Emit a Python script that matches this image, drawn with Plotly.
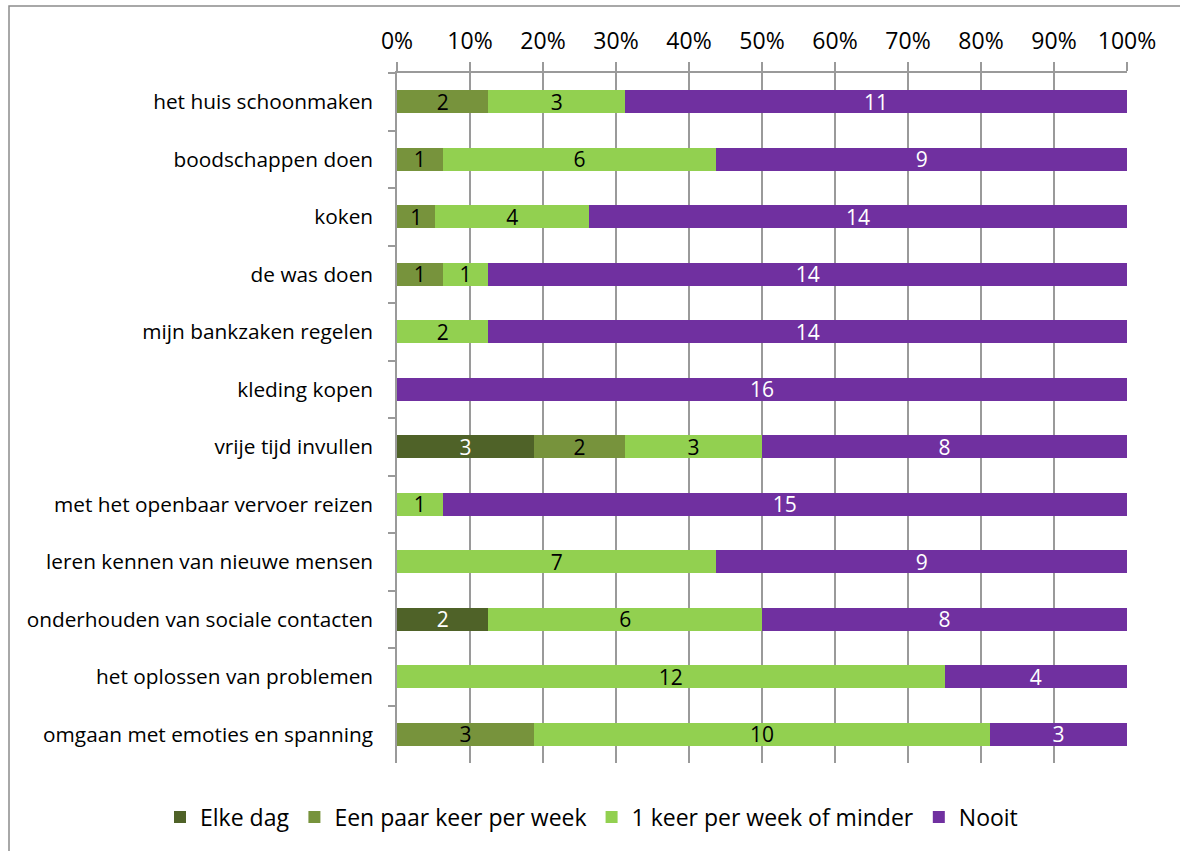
import plotly.graph_objects as go

categories = [
    "het huis schoonmaken",
    "boodschappen doen",
    "koken",
    "de was doen",
    "mijn bankzaken regelen",
    "kleding kopen",
    "vrije tijd invullen",
    "met het openbaar vervoer reizen",
    "leren kennen van nieuwe mensen",
    "onderhouden van sociale contacten",
    "het oplossen van problemen",
    "omgaan met emoties en spanning",
]
series_names = ["Elke dag", "Een paar keer per week", "1 keer per week of minder", "Nooit"]
elke_dag = [0, 0, 0, 0, 0, 0, 3, 0, 0, 2, 0, 0]
paar_keer = [2, 1, 1, 1, 0, 0, 2, 0, 0, 0, 0, 3]
een_keer = [3, 6, 4, 1, 2, 0, 3, 1, 7, 6, 12, 10]
nooit = [11, 9, 14, 14, 14, 16, 8, 15, 9, 8, 4, 3]
x_ticks = [0, 10, 20, 30, 40, 50, 60, 70, 80, 90, 100]

colors = ["#4F6228", "#77933C", "#92D050", "#7030A0"]
text_colors = ["white", "black", "black", "white"]
values = [elke_dag, paar_keer, een_keer, nooit]

FONT = "Open Sans, sans-serif"

fig = go.Figure()
for name, vals, col, tcol in zip(series_names, values, colors, text_colors):
    fig.add_trace(go.Bar(
        y=categories, x=vals, name=name, orientation="h",
        marker=dict(color=col, line=dict(width=0)),
        text=[str(v) if v else "" for v in vals],
        textposition="inside", insidetextanchor="middle",
        constraintext="none", textangle=0,
        textfont=dict(color=tcol, size=21, family=FONT),
        width=0.4,
        hoverinfo="skip",
    ))

W, H = 1180, 851
L, R, T, B = 397, 1127, 73, 763
fig.update_layout(
    width=W, height=H,
    barmode="stack", barnorm="percent",
    margin=dict(l=L, r=W - R, t=T, b=H - B, pad=0),
    paper_bgcolor="white", plot_bgcolor="white",
    font=dict(family=FONT, color="black", size=21),
    showlegend=True,
    legend=dict(
        orientation="h", x=(160 - L) / (R - L), xanchor="left",
        y=(B - 817) / (B - T), yanchor="middle",
        font=dict(size=23, family=FONT),
        itemwidth=30, traceorder="normal",
        bgcolor="rgba(0,0,0,0)",
    ),
    xaxis=dict(
        side="top", range=[0, 100], tickvals=x_ticks,
        ticktext=[f"{v}%" for v in x_ticks],
        showgrid=True, gridcolor="#9A9A9A", gridwidth=1.5,
        showline=True, linecolor="#9A9A9A", linewidth=1.5,
        ticks="outside", ticklen=9, tickcolor="#9A9A9A", tickwidth=1.5,
        tickfont=dict(size=23), ticklabelstandoff=4, zeroline=False, fixedrange=True,
    ),
    yaxis=dict(
        autorange="reversed", type="category",
        showline=True, linecolor="#9A9A9A", linewidth=1.5,
        ticks="outside", ticklen=7, tickcolor="#9A9A9A", tickwidth=1.5,
        tickson="boundaries", showgrid=False,
        tickfont=dict(size=20.8), ticklabelstandoff=18, fixedrange=True,
    ),
    shapes=[dict(
        type="rect", xref="paper", yref="paper",
        x0=(9 - L) / (R - L), x1=(W + 10 - L) / (R - L),
        y0=(B - (H + 10)) / (B - T), y1=1 + (T - 6) / (B - T),
        line=dict(color="#8C8C8C", width=1.5), fillcolor="rgba(0,0,0,0)",
        layer="below",
    )],
)

fig.write_html("out.html")
